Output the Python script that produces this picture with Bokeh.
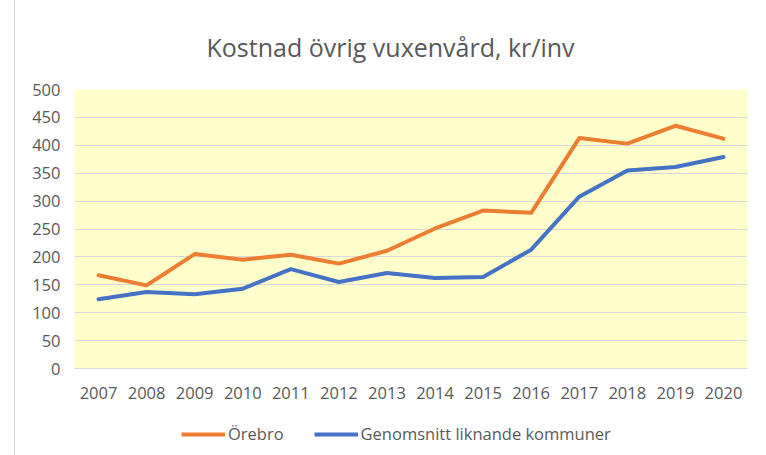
from bokeh.plotting import figure
from bokeh.layouts import column
from bokeh.models import Legend, LegendItem, FactorRange, Range1d, FixedTicker
from bokeh.embed import file_html
from bokeh.resources import INLINE

years = ["2007", "2008", "2009", "2010", "2011", "2012", "2013",
         "2014", "2015", "2016", "2017", "2018", "2019", "2020"]
orebro = [167, 149, 205, 195, 204, 188, 211, 251, 283, 279, 413, 403, 435, 412]
genomsnitt = [124, 137, 133, 143, 178, 155, 171, 162, 164, 213, 308, 355, 361, 379]
y_ticks = [0, 50, 100, 150, 200, 250, 300, 350, 400, 450, 500]
series_names = ["Örebro", "Genomsnitt liknande kommuner"]
series_colors = ["#ED7D31", "#4472C4"]
series_values = [orebro, genomsnitt]

FONT = "Open Sans"
TXT = "#595959"
LW = 4

p = figure(x_range=FactorRange(*years), y_range=Range1d(0, 500),
           width=745, height=408, output_backend="svg", toolbar_location=None,
           min_border_left=59, min_border_right=13, min_border_top=89,
           min_border_bottom=40)

p.title.text = "Kostnad övrig vuxenvård, kr/inv"
p.title.align = "left"
p.title.offset = 132
p.title.text_font = FONT
p.title.text_font_size = "25px"
p.title.text_font_style = "normal"
p.title.text_color = TXT
p.title.standoff = 52

p.background_fill_color = "#FFFFCC"
p.border_fill_color = "white"
p.outline_line_color = None

for vals, col in zip(series_values, series_colors):
    p.line(years, vals, line_color=col, line_width=LW,
           line_join="round", line_cap="round")

p.xgrid.grid_line_color = None
p.ygrid.grid_line_color = "#D9D9D9"
p.ygrid.grid_line_width = 1.2

p.yaxis.ticker = FixedTicker(ticks=y_ticks)
for ax in (p.xaxis, p.yaxis):
    ax.axis_line_color = None
    ax.major_tick_line_color = None
    ax.minor_tick_line_color = None
    ax.major_label_text_font = FONT
    ax.major_label_text_font_size = "16.5px"
    ax.major_label_text_color = TXT
p.xaxis.axis_line_color = "#D9D9D9"
p.xaxis.axis_line_width = 1.2
p.xaxis.major_label_standoff = 12
p.yaxis.major_label_standoff = 8

# legend strip below the chart
q = figure(width=745, height=47, output_backend="svg", toolbar_location=None,
           x_range=FactorRange(*years), y_range=Range1d(0, 500),
           x_axis_type=None, y_axis_type=None,
           min_border_left=0, min_border_right=0, min_border_top=0,
           min_border_bottom=0)
q.outline_line_color = None
q.xgrid.grid_line_color = None
q.ygrid.grid_line_color = None
q.background_fill_color = "white"
items = []
for name, vals, col in zip(series_names, series_values, series_colors):
    r = q.line(years, vals, line_color=col, line_width=LW, line_cap="butt",
               visible=False)
    items.append(LegendItem(label=name, renderers=[r]))
legend = Legend(items=items, orientation="horizontal", location=(107, 10),
                glyph_width=44, glyph_height=16, label_standoff=3, spacing=30,
                padding=0, margin=0, border_line_color=None,
                background_fill_alpha=0, click_policy="none",
                label_text_font=FONT, label_text_font_size="16.5px",
                label_text_color=TXT)
q.add_layout(legend, "center")

layout = column(p, q, spacing=0,
                styles={"margin-left": "14px",
                        "border-left": "1px solid #D9D9D9"})
open("out.html", "w").write(file_html(layout, INLINE))
